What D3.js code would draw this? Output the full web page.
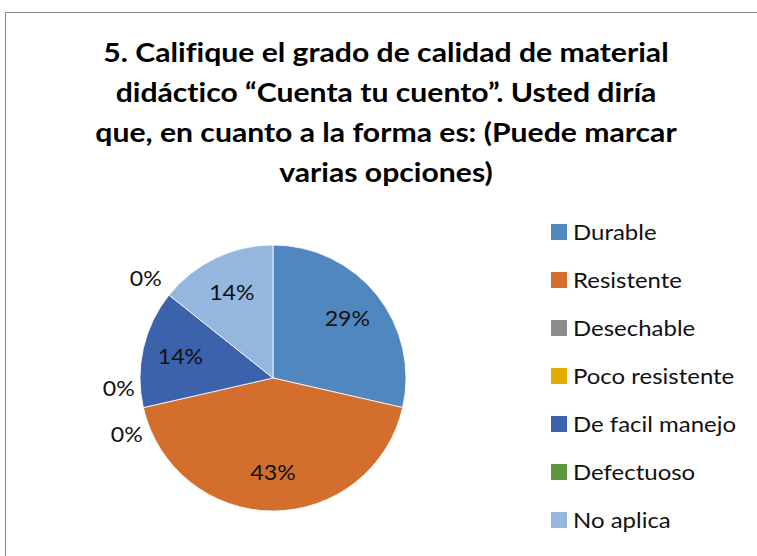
<!DOCTYPE html>
<html><head><meta charset="utf-8">
<script src="https://cdn.jsdelivr.net/npm/d3@7"></script>
<style>body{margin:0;background:#fff;}svg{display:block;}text{font-variant-ligatures:none;font-feature-settings:"liga" 0,"clig" 0;}</style>
</head><body>
<svg id="c" width="757" height="556"></svg>
<script>
const categories = ["Durable","Resistente","Desechable","Poco resistente","De facil manejo","Defectuoso","No aplica"];
const values = [2,3,0,0,1,0,1];
const colors = ["#4F87BE","#D46E2C","#8C8C8C","#E3AC00","#3D62AC","#5E963C","#95B7DF"];
const titleLines = ["5. Califique el grado de calidad de material","didáctico “Cuenta tu cuento”. Usted diría","que, en cuanto a la forma es: (Puede marcar","varias opciones)"];

const svg = d3.select("#c");
const font = "Lato, 'Open Sans', sans-serif";
svg.append("rect").attr("x",5.5).attr("y",12.5).attr("width",820).attr("height",620)
  .attr("fill","#fff").attr("stroke","#8a8a8a").attr("stroke-width",1);

svg.append("g").selectAll("text").data(titleLines).join("text")
  .attr("transform",(d,i)=>`translate(386,${62+i*40}) scale(1.16,1)`).attr("text-anchor","middle")
  .attr("font-family",font).attr("font-weight","bold").attr("font-size",26).attr("fill","#000")
  .text(d=>d);

const cx=273, cy=378, R=133;
const total = d3.sum(values);
const pie = d3.pie().sort(null).value(d=>d.v);
const data = categories.map((c,i)=>({c, v:values[i], col:colors[i]}));
const arcs = pie(data);
const arc = d3.arc().innerRadius(0).outerRadius(R);
const g = svg.append("g").attr("transform",`translate(${cx},${cy})`);
g.selectAll("path").data(arcs.filter(a=>a.data.v>0)).join("path")
  .attr("d",arc).attr("fill",d=>d.data.col).attr("stroke","#fff").attr("stroke-width",0.8);

const fmt = v => Math.round(v/total*100)+"%";
const inArc = d3.arc().innerRadius(95).outerRadius(95);
const labels=[];
let zeroIdxAtAngle = {};
arcs.forEach(a=>{
  if(a.data.v>0){
    const [x,y]=inArc.centroid(a);
    labels.push({x,y,t:fmt(a.data.v)});
  } else {
    const ang=a.startAngle;
    const key=ang.toFixed(4);
    const k = zeroIdxAtAngle[key]||0; zeroIdxAtAngle[key]=k+1;
    const r=R+17;
    let x=Math.sin(ang)*r, y=-Math.cos(ang)*r;
    labels.push({x,y,t:fmt(0),k,key});
  }
});
// spread stacked zero labels sharing the same angle
Object.keys(zeroIdxAtAngle).forEach(key=>{
  const grp = labels.filter(l=>l.key===key);
  if(grp.length>1){
    grp.forEach((l,i)=>{ const j=grp.length-1-i; l.y += (j-(grp.length-1)/2)*46; if(j===0) l.x-=8; });
  } else grp.forEach(l=>{l.x-=10; l.y-=6;});
});
g.selectAll("text.lbl").data(labels).join("text").attr("class","lbl")
  .attr("transform",d=>`translate(${d.x},${d.y}) scale(1.1,1)`).attr("dy","0.35em").attr("text-anchor","middle")
  .attr("font-family",font).attr("font-size",21).attr("fill","#111").text(d=>d.t);

const lg = svg.append("g").attr("transform","translate(551,232)");
const items = lg.selectAll("g").data(data).join("g").attr("transform",(d,i)=>`translate(0,${i*48})`);
items.append("rect").attr("x",0).attr("y",-8).attr("width",16).attr("height",16).attr("fill",d=>d.col);
items.append("text").attr("transform","translate(22,0) scale(1.09,1)").attr("dy","0.35em")
  .attr("font-family",font).attr("font-size",22).attr("fill","#111").text(d=>d.c);
</script>
</body></html>
